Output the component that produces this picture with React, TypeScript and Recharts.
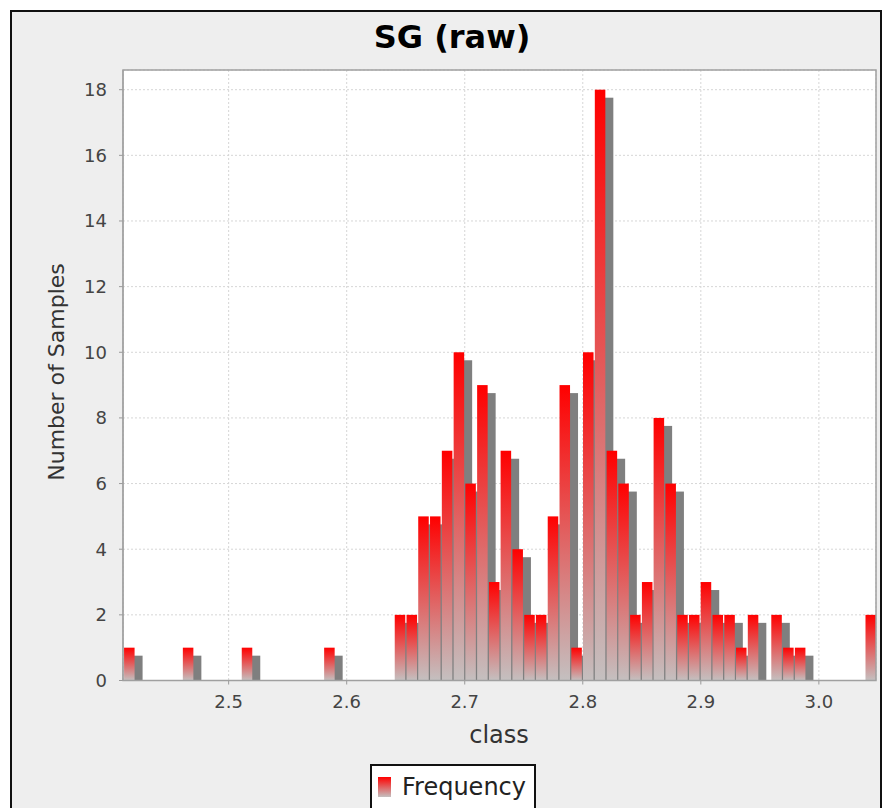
import { ComposedChart, Bar, XAxis, YAxis, CartesianGrid } from 'recharts'

// histogram bin centres (class) and sample counts
const classes = [
  2.4155, 2.4255, 2.4354, 2.4454, 2.4554, 2.4653, 2.4753, 2.4853, 2.4953, 2.5052,
  2.5152, 2.5252, 2.5351, 2.5451, 2.5551, 2.565, 2.575, 2.585, 2.595, 2.6049,
  2.6149, 2.6249, 2.6348, 2.6448, 2.6548, 2.6647, 2.6747, 2.6847, 2.6947, 2.7046,
  2.7146, 2.7246, 2.7345, 2.7445, 2.7545, 2.7644, 2.7744, 2.7844, 2.7944, 2.8043,
  2.8143, 2.8243, 2.8342, 2.8442, 2.8542, 2.8641, 2.8741, 2.8841, 2.8941, 2.904,
  2.914, 2.924, 2.9339, 2.9439, 2.9539, 2.9638, 2.9738, 2.9838, 2.9938, 3.0037,
  3.0137, 3.0237, 3.0336, 3.0436,
]
const frequency = [
  1, 0, 0, 0, 0, 1, 0, 0, 0, 0,
  1, 0, 0, 0, 0, 0, 0, 1, 0, 0,
  0, 0, 0, 2, 2, 5, 5, 7, 10, 6,
  9, 3, 7, 4, 2, 2, 5, 9, 1, 10,
  18, 7, 6, 2, 3, 8, 6, 2, 2, 3,
  2, 2, 1, 2, 0, 2, 1, 1, 0, 0,
  0, 0, 0, 2,
]
const classTicks = [2.5, 2.6, 2.7, 2.8, 2.9, 3.0]
const countTicks = [0, 2, 4, 6, 8, 10, 12, 14, 16, 18]

const data = classes.map((c, i) => ({ cls: c, freq: frequency[i] }))

const FONT = '"DejaVu Sans", sans-serif'
const SHADOW = 8

// JFreeChart-ish bar: offset grey shadow pegged to the base, then a red->grey gradient bar
function ShadowBar(props: any) {
  const { x, y, width, height } = props
  if (!height || height <= 0) return null
  return (
    <g>
      <rect x={x + SHADOW} y={y + SHADOW} width={width} height={Math.max(0, height - SHADOW)} fill="#7f7f7f" />
      <rect x={x} y={y} width={width} height={height} fill="url(#barFill)" />
    </g>
  )
}

export default function App() {
  return (
    <div style={{ position: 'absolute', left: 0, top: 0, width: 882, height: 808, background: '#fff', overflow: 'hidden', fontFamily: FONT }}>
      <div
        style={{
          position: 'absolute', left: 10, top: 10, width: 868, height: 820,
          background: '#eeeeee', border: '2px solid #111',
        }}
      />
      <div style={{ position: 'absolute', left: 0, top: 0 }}>
        <ComposedChart
          width={882}
          height={808}
          data={data}
          margin={{ top: 70, right: 6, bottom: 87.5, left: 43 }}
          barGap={0}
          barCategoryGap={0}
        >
          <CartesianGrid fill="#ffffff" stroke="#d6d6d6" strokeDasharray="2 2" />
          <XAxis
            dataKey="cls"
            type="number"
            domain={[2.4105, 3.0484]}
            ticks={classTicks}
            tickFormatter={(v: number) => v.toFixed(1)}
            allowDataOverflow
            height={40}
            tickSize={4}
            tickMargin={11}
            stroke="#999"
            tick={{ fill: '#444', fontSize: 18, fontFamily: FONT }}
          />
          <YAxis
            type="number"
            domain={[0, 18.6]}
            ticks={countTicks}
            allowDataOverflow
            width={80}
            tickSize={4}
            tickMargin={12}
            stroke="#999"
            tick={{ fill: '#444', fontSize: 18, fontFamily: FONT }}
          />
          <Bar dataKey="freq" barSize={11.75} shape={ShadowBar} isAnimationActive={false} />
        </ComposedChart>
      </div>
      <svg width={882} height={808} style={{ position: 'absolute', left: 0, top: 0, pointerEvents: 'none' }}>
        <defs>
          <linearGradient id="barFill" x1="0" y1="0" x2="0" y2="1">
            <stop offset="0%" stopColor="#ff0000" />
            <stop offset="100%" stopColor="#c4c0c0" />
          </linearGradient>
        </defs>
        <rect x={123} y={70} width={753} height={610.5} fill="none" stroke="#a0a0a0" strokeWidth={1.5} />
        <text x={452} y={48} textAnchor="middle" fontSize={32} fontWeight="bold" fill="#000" fontFamily={FONT}>
          SG (raw)
        </text>
        <text
          x={0}
          y={0}
          transform="translate(64 372) rotate(-90)"
          textAnchor="middle"
          fontSize={22}
          fill="#333"
          fontFamily={FONT}
        >
          Number of Samples
        </text>
        <text x={499} y={743} textAnchor="middle" fontSize={24} fill="#333" fontFamily={FONT}>
          class
        </text>
        <rect x={371} y={765} width={164} height={50} fill="#fff" stroke="#111" strokeWidth={2} />
        <rect x={378} y={777} width={13} height={20} fill="url(#barFill)" />
        <text x={402} y={795} fontSize={24} fill="#222" fontFamily={FONT}>
          Frequency
        </text>
      </svg>
    </div>
  )
}
